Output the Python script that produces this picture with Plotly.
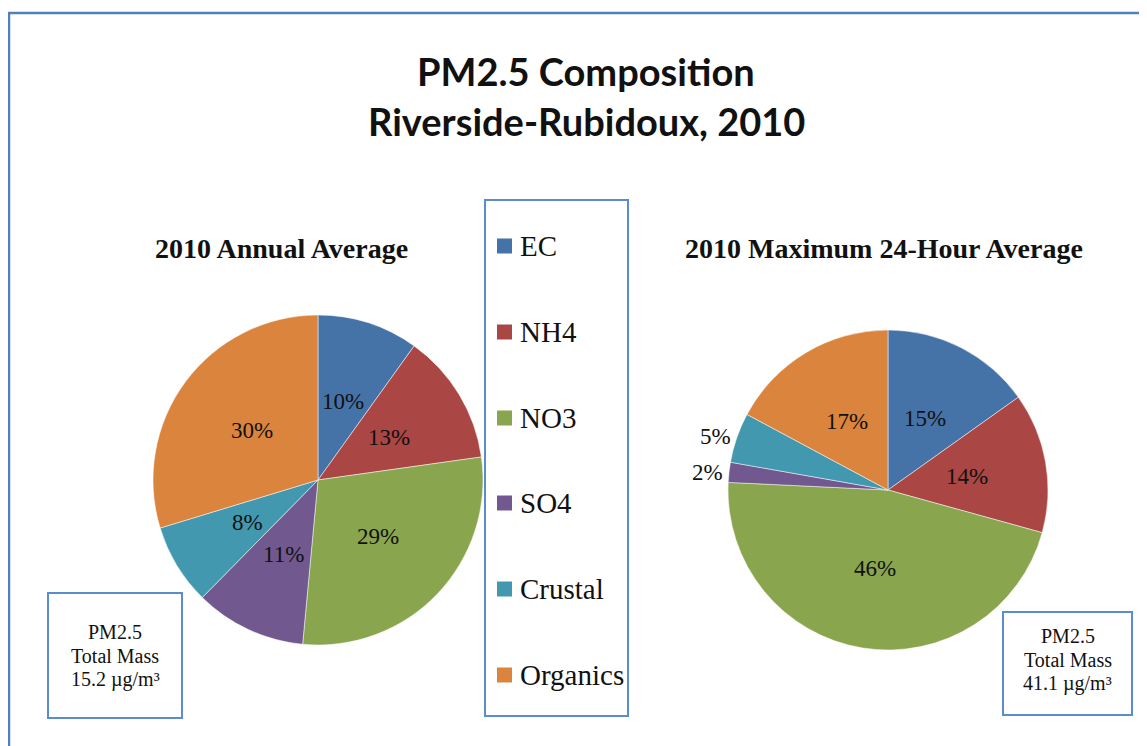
import math
import plotly.graph_objects as go

W, H = 1147, 746
OFF = 8  # page body margin

categories = ["EC", "NH4", "NO3", "SO4", "Crustal", "Organics"]
annual_pct = [10, 13, 29, 11, 8, 30]
max24_pct = [15, 14, 46, 2, 5, 17]
colors = ["#4572A7", "#AA4643", "#89A54E", "#71588F", "#4198AF", "#DB843D"]
annual_mass = "15.2"
max24_mass = "41.1"
annual_outside = [False, False, False, False, False, False]
max24_outside = [False, False, False, True, True, False]


def px(x):
    return (x - OFF) / W


def py(y):
    return 1 - (y - OFF) / H


serif = "Liberation Serif, Times New Roman, serif"
label_font = dict(family=serif, size=23, color="#111111")

fig = go.Figure()
annotations = []
shapes = []


def add_pie(values, outside, cx, cy, r, dom_x):
    pos = ["outside" if o else "none" for o in outside]
    fig.add_trace(go.Pie(
        labels=categories, values=values, sort=False, direction="clockwise", rotation=0,
        marker=dict(colors=colors, line=dict(color="white", width=0.5)),
        texttemplate="%{value}%", textposition=pos,
        outsidetextfont=label_font,
        domain=dict(x=[px(dom_x[0]), px(dom_x[1])], y=[py(cy + r), py(cy - r)]),
        showlegend=False, hoverinfo="label+value",
    ))
    total = sum(values)
    cum = 0
    for v, o in zip(values, outside):
        mid = (cum + v / 2) / total * 2 * math.pi
        cum += v
        if o:
            continue
        lx = cx + 0.5 * r * math.sin(mid)
        ly = cy - 0.5 * r * math.cos(mid)
        annotations.append(dict(text=f"{v}%", xref="paper", yref="paper", x=px(lx), y=py(ly),
                                xanchor="center", yanchor="middle", showarrow=False,
                                font=label_font))


add_pie(annual_pct, annual_outside, 318, 480, 165, (153, 483))
add_pie(max24_pct, max24_outside, 888, 490, 160, (688, 1088))

# outer border
shapes.append(dict(type="rect", xref="paper", yref="paper",
                   x0=px(9), x1=px(1170), y0=py(770), y1=py(13),
                   line=dict(color="#4F81BD", width=2.5)))
# legend box
shapes.append(dict(type="rect", xref="paper", yref="paper",
                   x0=px(485), x1=px(628), y0=py(716), y1=py(200),
                   line=dict(color="#5B8CD0", width=2)))
leg_y = [246, 332, 418, 503, 589, 675]
for cat, col, yy in zip(categories, colors, leg_y):
    shapes.append(dict(type="rect", xref="paper", yref="paper",
                       x0=px(497), x1=px(512), y0=py(yy + 7.5), y1=py(yy - 7.5),
                       fillcolor=col, line=dict(width=0)))
    annotations.append(dict(text=cat, xref="paper", yref="paper", x=px(518), y=py(yy),
                            xanchor="left", yanchor="middle", showarrow=False,
                            font=dict(family=serif, size=29, color="#111111")))

# mass boxes
box_font = dict(family=serif, size=20, color="#111111")
for (x0, x1, y0, y1, m, ys) in [(48, 182, 593, 718, annual_mass, (632, 656, 679)),
                                (1003, 1132, 612, 715, max24_mass, (636, 660, 683))]:
    shapes.append(dict(type="rect", xref="paper", yref="paper",
                       x0=px(x0), x1=px(x1), y0=py(y1), y1=py(y0),
                       line=dict(color="#5B8CD0", width=2)))
    for line, yy in zip(["PM2.5", "Total Mass", f"{m} µg/m³"], ys):
        annotations.append(dict(text=line, xref="paper", yref="paper",
                                x=px((x0 + x1) / 2), y=py(yy),
                                xanchor="center", yanchor="middle", showarrow=False,
                                font=box_font))

# titles
title_font = dict(family="Lato, Open Sans, sans-serif", size=38, color="#111111")
annotations.append(dict(text="<b>PM2.5 Composition</b>", xref="paper", yref="paper",
                        x=px(586), y=py(71), xanchor="center", yanchor="middle", showarrow=False,
                        font=title_font))
annotations.append(dict(text="<b>Riverside-Rubidoux, 2010</b>", xref="paper", yref="paper",
                        x=px(586), y=py(121), xanchor="center", yanchor="middle", showarrow=False,
                        font=title_font))
sub_font = dict(family=serif, size=28, color="#111111")
annotations.append(dict(text="<b>2010 Annual Average</b>", xref="paper", yref="paper",
                        x=px(281), y=py(248), xanchor="center", yanchor="middle", showarrow=False,
                        font=sub_font))
annotations.append(dict(text="<b>2010 Maximum 24-Hour Average</b>", xref="paper", yref="paper",
                        x=px(884), y=py(248), xanchor="center", yanchor="middle", showarrow=False,
                        font=sub_font))

fig.update_layout(
    width=W, height=H, margin=dict(l=0, r=0, t=0, b=0),
    paper_bgcolor="white", plot_bgcolor="white",
    shapes=shapes, annotations=annotations,
)

fig.write_html("out.html")
